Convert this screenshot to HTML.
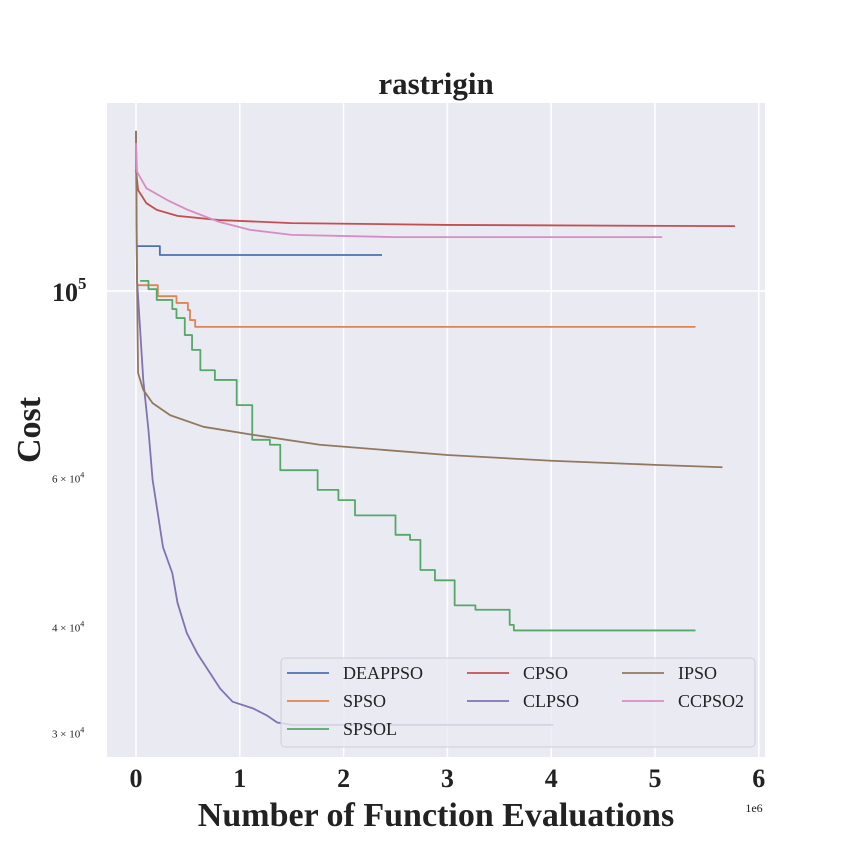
<!DOCTYPE html>
<html><head><meta charset="utf-8"><style>
body{margin:0;background:#fff;}
svg{display:block;font-family:"Liberation Serif",serif;}
</style></head><body>
<svg id="chart" width="850" height="850">
<rect x="107" y="103" width="658" height="654" fill="#EAEAF2"/>
<g id="grid"></g>
<g id="lines"></g>
<text x="436" y="94" text-anchor="middle" font-size="31" font-weight="bold" fill="#222">rastrigin</text>
<text x="436" y="826" text-anchor="middle" font-size="34" font-weight="bold" fill="#222">Number of Function Evaluations</text>
<text x="754" y="812" text-anchor="middle" font-size="12" fill="#222">1e6</text>
<text transform="translate(40,430) rotate(-90)" text-anchor="middle" font-size="34" font-weight="bold" fill="#222">Cost</text>
<g id="ticks"></g>
<g id="legend"></g>
</svg>
<script>
const seriesNames=["DEAPPSO","SPSO","SPSOL","CPSO","CLPSO","IPSO","CCPSO2"];
const colors=["#4C72B0","#DD8452","#55A868","#C44E52","#8172B3","#937860","#DA8BC3"];
const xTicks=[0,1,2,3,4,5,6];
const yMajor=[100000];
const yMinor=[[60000,"6"],[40000,"4"],[30000,"3"]];
// x in 1e6 evaluations, y cost
const deappsoX=[0,0.02,0.23,2.37];
const deappsoY=[113000,113000,110300,110300];
const spsoX=[0.01,0.21,0.39,0.5,0.52,0.57,0.66,5.39];
const spsoY=[101600,98600,96800,94950,92400,90700,90700,90700];
const spsolX=[0.04,0.12,0.2,0.35,0.39,0.47,0.54,0.62,0.76,0.97,1.12,1.29,1.39,1.75,1.95,2.11,2.5,2.64,2.74,2.88,3.07,3.27,3.6,3.64,5.39];
const spsolY=[102800,100500,97600,95200,92900,88700,85200,80600,78500,73300,66700,65800,61400,58200,56600,54300,51500,50800,46800,45500,42500,42000,40300,39700,39700];
const cpsoX=[0,0.02,0.1,0.2,0.4,0.8,1.5,3,5.77];
const cpsoY=[139000,131600,127000,124700,122700,121300,120300,119700,119300];
const clpsoX=[0,0.01,0.07,0.12,0.16,0.21,0.26,0.35,0.40,0.49,0.59,0.71,0.81,0.93,1.13,1.26,1.36,1.5,4.02];
const clpsoY=[154600,103000,78500,68500,59800,54600,49800,46400,42800,39400,37300,35400,33900,32700,32100,31500,30900,30700,30700];
const ipsoX=[0,0.005,0.01,0.015,0.02,0.07,0.16,0.33,0.65,1.13,1.77,3,4,5,5.65];
const ipsoY=[154600,120000,103000,89900,80000,76400,73700,71300,69100,67600,65800,64000,63000,62300,61900];
const ccpsoX=[0,0.01,0.1,0.3,0.5,0.8,1.1,1.5,2.5,5.07];
const ccpsoY=[149600,138300,132300,128100,124700,120700,118100,116500,115800,115800];
const allX=[deappsoX,spsoX,spsolX,cpsoX,clpsoX,ipsoX,ccpsoX];
const allY=[deappsoY,spsoY,spsolY,cpsoY,clpsoY,ipsoY,ccpsoY];
const stepped=[true,true,true,false,false,false,false];
const NS="http://www.w3.org/2000/svg";
const L=107,R=765,T=103,B=757;
function xs(v){return 136+v*103.8;}
function ys(v){return 291-(Math.log10(v)-5)*846;}
function mk(tag,attrs,parent){const e=document.createElementNS(NS,tag);for(const k in attrs)e.setAttribute(k,attrs[k]);parent.appendChild(e);return e;}
const grid=document.getElementById('grid'),ticks=document.getElementById('ticks'),lines=document.getElementById('lines'),legend=document.getElementById('legend');
xTicks.forEach(t=>{
  const g=mk('line',{x1:xs(t),x2:xs(t),y1:T,y2:B,stroke:'#fff','stroke-width':1.5},grid);
  
  
  const tx=mk('text',{x:xs(t),y:787,'text-anchor':'middle','font-size':26,'font-weight':'bold',fill:'#222'},ticks);
  tx.textContent=t;
  
  
});
yMajor.forEach(v=>{
  const g=mk('line',{x1:L,x2:R,y1:ys(v),y2:ys(v),stroke:'#fff','stroke-width':1.5},grid);
  
  
  const tx=mk('text',{x:52,y:ys(v)+10,'font-size':26,'font-weight':'bold',fill:'#222'},ticks);
  tx.innerHTML='10<tspan font-size="17" dy="-12">5</tspan>';
  
  
});
yMinor.forEach(m=>{
  const tx=mk('text',{x:52,y:ys(m[0])+4,'font-size':11,fill:'#222'},ticks);
  tx.innerHTML=m[1]+' × 10<tspan font-size="8" dy="-5">4</tspan>';
  
  
});
allX.forEach((X,i)=>{
  let d='';
  X.forEach((x,j)=>{
    const px=xs(x),py=ys(allY[i][j]);
    if(j===0)d='M'+px+','+py;
    else if(stepped[i])d+=' H'+px+' V'+py;
    else d+=' L'+px+','+py;
  });
  const p=mk('path',{d:d,fill:'none',stroke:colors[i],'stroke-width':1.8,'stroke-linejoin':'round'},lines);
  
  
});
const box=mk('rect',{x:281,y:658,width:474,height:89,rx:4,fill:'rgba(234,234,242,0.8)',stroke:'#cfcfd6','stroke-width':1},legend);


const colX=[287,467,622],rowY=[673,701,729];
const legCol=[0,0,0,1,1,2,2],legRow=[0,1,2,0,1,0,1];
seriesNames.forEach((n,i)=>{
  const c=legCol[i],r=legRow[i];
  const g=mk('g',{},legend);
  
  
  mk('line',{x1:colX[c],x2:colX[c]+42,y1:rowY[r],y2:rowY[r],stroke:colors[i],'stroke-width':1.8},g);
  const t=mk('text',{x:colX[c]+56,y:rowY[r]+6,'font-size':18,fill:'#222'},g);
  t.textContent=n;
});
</script>
</body></html>
